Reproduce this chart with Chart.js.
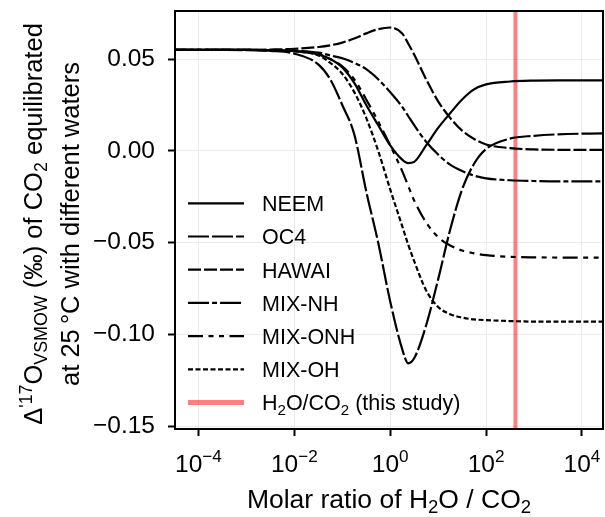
<!DOCTYPE html>
<html>
<head>
<meta charset="utf-8">
<script src="https://cdn.jsdelivr.net/npm/chart.js@4/dist/chart.umd.min.js"></script>
<style>
  html, body { margin: 0; padding: 0; background: #fff; }
  canvas { display: block; }
</style>
</head>
<body>
<canvas id="chart" width="605" height="517"></canvas>
<script>
// molar ratio H2O / CO2 (x) and Δ'17O of the equilibrated CO2 (‰) per water
const ratio = [3e-5, 3.2e-4, 1e-3, 3.2e-3, 0.01, 0.032, 0.056, 0.1, 0.178, 0.316, 0.562, 1,
  1.78, 2.37, 3.16, 5.62, 10, 17.8, 31.6, 56.2, 100, 316, 1000, 3160, 31600];

const neem = [0.055, 0.055, 0.055, 0.0548, 0.0543, 0.0525, 0.050, 0.0455, 0.037, 0.025, 0.014, 0.003,
  -0.0048, -0.0067, -0.006, 0.003, 0.0125, 0.0205, 0.028, 0.0335, 0.0362, 0.0378, 0.0383, 0.0384, 0.0384];
const oc4 = [0.055, 0.055, 0.0549, 0.0545, 0.053, 0.047, 0.039, 0.025, 0.009, -0.022, -0.05, -0.082,
  -0.108, -0.1157, -0.113, -0.095, -0.07, -0.043, -0.021, -0.007, 0.001, 0.0067, 0.0082, 0.009, 0.0096];
const hawai = [0.055, 0.055, 0.055, 0.0552, 0.0556, 0.0566, 0.0575, 0.059, 0.0612, 0.064, 0.0663, 0.0672,
  0.064, 0.0585, 0.0525, 0.039, 0.027, 0.018, 0.011, 0.0065, 0.0035, 0.0015, 0.0008, 0.0006, 0.0005];
const mixNH = [0.055, 0.055, 0.055, 0.0549, 0.0546, 0.0535, 0.052, 0.0505, 0.048, 0.0445, 0.039, 0.032,
  0.024, 0.019, 0.014, 0.005, -0.002, -0.0075, -0.011, -0.0135, -0.015, -0.016, -0.0164, -0.0166, -0.0166];
const mixONH = [0.055, 0.055, 0.055, 0.0548, 0.0544, 0.0527, 0.050, 0.046, 0.039, 0.028, 0.016, 0.003,
  -0.011, -0.019, -0.027, -0.039, -0.047, -0.0515, -0.0543, -0.0558, -0.0568, -0.0577, -0.058, -0.0581, -0.0582];
const mixOH = [0.055, 0.055, 0.055, 0.0548, 0.0543, 0.052, 0.048, 0.042, 0.032, 0.018, 0.000, -0.021,
  -0.041, -0.051, -0.06, -0.076, -0.085, -0.089, -0.0908, -0.0918, -0.0922, -0.0927, -0.093, -0.093, -0.093];

// H2O/CO2 ratio used in this study
const studyRatio = 410;

const xTicks = [1e-4, 1e-2, 1, 1e2, 1e4];
const yTicks = [-0.15, -0.10, -0.05, 0.00, 0.05];
const xRange = [3.24e-5, 27500];
const yRange = [-0.1515, 0.0762];

const FONT = '"Liberation Sans", Arial, Helvetica, sans-serif';

// splits "H_{2}O" / "10^{-4}" style strings into normal / sub / sup runs
function richParts(str) {
  const parts = [];
  const re = /([_^])\{([^}]*)\}/g;
  let last = 0, m;
  while ((m = re.exec(str))) {
    if (m.index > last) parts.push({ text: str.slice(last, m.index), mode: 'n' });
    parts.push({ text: m[2], mode: m[1] === '_' ? 'sub' : 'sup' });
    last = re.lastIndex;
  }
  if (last < str.length) parts.push({ text: str.slice(last), mode: 'n' });
  return parts;
}

function drawRich(ctx, str, x, y, size, align) {
  const parts = richParts(str);
  const fontOf = p => (p.mode === 'n' ? size : size * 0.7) + 'px ' + FONT;
  let total = 0;
  parts.forEach(p => { ctx.font = fontOf(p); p.w = ctx.measureText(p.text).width; total += p.w; });
  let cx = align === 'center' ? x - total / 2 : x;
  ctx.textAlign = 'left';
  ctx.textBaseline = 'alphabetic';
  parts.forEach(p => {
    ctx.font = fontOf(p);
    const dy = p.mode === 'sub' ? size * 0.2 : p.mode === 'sup' ? -size * 0.4 : 0;
    ctx.fillText(p.text, cx, y + dy);
    cx += p.w;
  });
}

function curve(label, values, dash) {
  return {
    label: label,
    data: ratio.map((r, i) => ({ x: r, y: values[i] })),
    borderColor: '#000',
    borderWidth: 2.2,
    borderDash: dash,
    borderCapStyle: 'butt',
    pointRadius: 0,
    cubicInterpolationMode: 'monotone',
    fill: false
  };
}

const datasets = [
  curve('NEEM', neem, []),
  curve('OC4', oc4, [21, 3]),
  curve('HAWAI', hawai, [13, 3]),
  curve('MIX-NH', mixNH, [21, 3, 5, 3]),
  curve('MIX-ONH', mixONH, [15, 5.5, 5, 5.5, 5, 5.5]),
  curve('MIX-OH', mixOH, [5, 2.5]),
  {
    label: 'H_{2}O/CO_{2} (this study)',
    data: [{ x: studyRatio, y: yRange[0] }, { x: studyRatio, y: yRange[1] }],
    borderColor: 'rgba(255, 0, 0, 0.5)',
    borderWidth: 4,
    pointRadius: 0,
    legendWidth: 5
  }
];

// frame, log tick labels, axis titles and the in-plot legend
const decorations = {
  id: 'decorations',
  afterDatasetsDraw(chart) {
    const { ctx, chartArea: a } = chart;
    ctx.save();
    ctx.strokeStyle = '#000';
    ctx.lineWidth = 2;
    ctx.strokeRect(a.left, a.top, a.right - a.left, a.bottom - a.top);
    ctx.restore();
  },
  afterDraw(chart) {
    const { ctx, chartArea: a } = chart;
    const xs = chart.scales.x;
    ctx.save();
    ctx.fillStyle = '#000';

    xTicks.forEach(v => {
      const e = Math.round(Math.log10(v));
      const txt = '10^{' + (e < 0 ? '\u2212' + (-e) : e) + '}';
      drawRich(ctx, txt, xs.getPixelForValue(v), 472, 24.5, 'center');
    });

    drawRich(ctx, 'Molar ratio of H_{2}O / CO_{2}', (a.left + a.right) / 2, 508, 26.5, 'center');

    ctx.save();
    ctx.translate(0, (a.top + a.bottom) / 2 + 4);
    ctx.rotate(-Math.PI / 2);
    drawRich(ctx, "\u0394^{'17}O_{VSMOW} (\u2030) of CO_{2} equilibrated", 0, 42, 25.5, 'center');
    drawRich(ctx, 'at 25\u2009\u00b0C with different waters', 0, 79, 25.5, 'center');
    ctx.restore();

    chart.data.datasets.forEach((ds, i) => {
      const y = 203.3 + i * 33.2;
      ctx.save();
      ctx.strokeStyle = ds.borderColor;
      ctx.lineWidth = ds.legendWidth || ds.borderWidth;
      ctx.setLineDash(ds.borderDash || []);
      ctx.lineCap = 'butt';
      ctx.beginPath();
      ctx.moveTo(188, y);
      ctx.lineTo(244, y);
      ctx.stroke();
      ctx.restore();
      drawRich(ctx, ds.label, 262, y + 7.8, 21.5, 'left');
    });
    ctx.restore();
  }
};

new Chart(document.getElementById('chart'), {
  type: 'line',
  data: { datasets: datasets },
  options: {
    responsive: false,
    devicePixelRatio: 1,
    animation: false,
    layout: { padding: { top: 11, right: 2, left: 0, bottom: 0 } },
    plugins: { legend: { display: false }, tooltip: { enabled: false } },
    scales: {
      x: {
        type: 'logarithmic',
        min: xRange[0],
        max: xRange[1],
        afterBuildTicks: scale => { scale.ticks = xTicks.map(v => ({ value: v })); },
        afterFit: scale => { scale.height = 88; scale.paddingLeft = 0; scale.paddingRight = 0; },
        ticks: { callback: () => '', autoSkip: false, maxRotation: 0 },
        grid: { color: '#ebebeb', lineWidth: 1, tickColor: '#000', tickLength: 7, tickWidth: 2 },
        border: { display: false }
      },
      y: {
        min: yRange[0],
        max: yRange[1],
        afterBuildTicks: scale => { scale.ticks = yTicks.map(v => ({ value: v })); },
        afterFit: scale => { scale.width = 175; scale.paddingTop = 0; scale.paddingBottom = 0; },
        ticks: {
          color: '#000',
          padding: 13,
          font: { family: FONT, size: 24.5 },
          callback: v => v.toFixed(2).replace('-', '\u2212')
        },
        grid: { color: '#ebebeb', lineWidth: 1, tickColor: '#000', tickLength: 7, tickWidth: 2 },
        border: { display: false }
      }
    }
  },
  plugins: [decorations]
});
</script>
</body>
</html>
